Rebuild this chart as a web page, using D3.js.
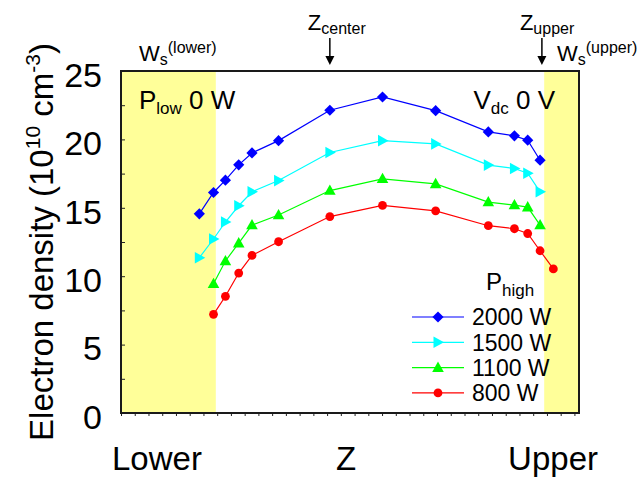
<!DOCTYPE html>
<html>
<head>
<meta charset="utf-8">
<script src="https://cdn.jsdelivr.net/npm/d3@7"></script>
<style>
	body { margin: 0; background: #fff; }
	svg { display: block; font-family: 'Liberation Sans', Arial, sans-serif; }
	.axis path { display: none; }
	.axis line { stroke: #222; }
	.axis text { fill: #000; }
</style>
</head>
<body>
<div class="chart"></div>
<script>
// z positions (0 = lower electrode, 100 = upper electrode)
const zBlue = [17.1, 20.2, 22.8, 25.7, 28.6, 34.4, 45.6, 57.1, 68.7, 80.2, 85.9, 88.8, 91.5]
const zCyan = [17.1, 20.2, 22.8, 25.7, 28.6, 34.4, 45.6, 57.1, 68.7, 80.2, 85.9, 88.8, 91.5]
const zGreen = [20.2, 22.8, 25.7, 28.6, 34.4, 45.6, 57.1, 68.7, 80.2, 85.9, 88.8, 91.5]
const zRed = [20.2, 22.8, 25.7, 28.6, 34.4, 45.6, 57.1, 68.7, 80.2, 85.9, 88.8, 91.5, 94.4]

// electron density, 10^10 cm^-3
const ne2000 = [14.56, 16.12, 17.02, 18.14, 19.01, 19.91, 22.13, 23.10, 22.10, 20.55, 20.26, 19.94, 18.48]
const ne1500 = [11.35, 12.72, 13.96, 15.15, 16.17, 16.99, 19.04, 19.91, 19.67, 18.12, 17.87, 17.53, 16.17]
const ne1100 = [9.45, 11.11, 12.42, 13.74, 14.47, 16.26, 17.12, 16.75, 15.42, 15.20, 15.05, 13.74]
const ne800 = [7.21, 8.53, 10.23, 11.52, 12.52, 14.36, 15.17, 14.78, 13.69, 13.47, 13.12, 11.86, 10.53]

const seriesNames = ['2000 W', '1500 W', '1100 W', '800 W']
const seriesColors = ['#0000ff', '#00ffff', '#00ff00', '#ff0000']
const seriesMarkers = ['diamond', 'triRight', 'triUp', 'circle']

const sheathLower = [0, 20.7]
const sheathUpper = [92.4, 100]
const zCenter = 45.6
const zUpper = 91.9

const yTicks = d3.range(0, 25.01, 2.5)
const yLabelTicks = [0, 5, 10, 15, 20, 25]
const xLabels = ['Lower', 'Z', 'Upper']

const width = 642
const height = 480
const FONT = 33
const margin = { top: 71, right: 63, bottom: 67, left: 121 }

const series = [
	{ z: zBlue, v: ne2000 },
	{ z: zCyan, v: ne1500 },
	{ z: zGreen, v: ne1100 },
	{ z: zRed, v: ne800 },
].map((s, i) => ({
	name: seriesNames[i],
	color: seriesColors[i],
	marker: seriesMarkers[i],
	points: s.z.map((z, j) => ({ z, v: s.v[j] })),
}))

const scaleX = d3.scaleLinear().domain([0, 100]).range([margin.left, width - margin.right])
const scaleY = d3.scaleLinear().domain([0, 25]).range([height - margin.bottom, margin.top])

const markerPath = {
	diamond: 'M0,-5.6L5.6,0L0,5.6L-5.6,0Z',
	triRight: 'M6,0L-4.5,-5.8L-4.5,5.8Z',
	triUp: 'M0,-6L5.8,4.3L-5.8,4.3Z',
	circle: d3.symbol(d3.symbolCircle, Math.PI * 4.4 * 4.4)(),
}

function translate(x, y) {
	return `translate(${x}, ${y})`
}

function sup(text, parts) {
	// parts: [{ t, size, dy }]
	parts.forEach(p => {
		text.append('tspan')
			.attr('font-size', p.size)
			.attr('dy', p.dy || 0)
			.text(p.t)
	})
}

const svg = d3.select('.chart').append('svg')
	.attr('width', width)
	.attr('height', height)

const x0 = scaleX(0)
const x1 = scaleX(100)
const y0 = scaleY(0)
const y1 = scaleY(25)

// sheath regions
svg.append('g').selectAll('rect')
	.data([sheathLower, sheathUpper])
	.join('rect')
	.attr('x', d => scaleX(d[0]))
	.attr('width', d => scaleX(d[1]) - scaleX(d[0]))
	.attr('y', y1)
	.attr('height', y0 - y1)
	.attr('fill', '#ffff99')

// y axis
const axisY = d3.axisLeft(scaleY)
	.tickValues(yTicks)
	.tickSize(-4)
	.tickPadding(19)
	.tickFormat(d => yLabelTicks.includes(d) ? d : '')

svg.append('g')
	.attr('class', 'axis axis--y')
	.attr('transform', translate(x0, 0))
	.call(axisY)
	.selectAll('text')
	.attr('font-size', 34)
	.attr('dy', '0.45em')

// bottom minor ticks
const axisX = d3.axisBottom(scaleX)
	.tickValues(d3.range(0, 100, 3))
	.tickSize(3)
	.tickFormat('')

svg.append('g')
	.attr('class', 'axis axis--x')
	.attr('transform', translate(0, y0))
	.call(axisX)
	.selectAll('line')
	.attr('stroke', '#666')

// frame
svg.append('rect')
	.attr('x', x0)
	.attr('y', y1)
	.attr('width', x1 - x0)
	.attr('height', y0 - y1)
	.attr('fill', 'none')
	.attr('stroke', '#1a1a1a')
	.attr('stroke-width', 2)

// series
const line = d3.line()
	.x(d => scaleX(d.z))
	.y(d => scaleY(d.v))

const gSeries = svg.append('g').selectAll('g')
	.data(series)
	.join('g')

gSeries.append('path')
	.attr('d', d => line(d.points))
	.attr('fill', 'none')
	.attr('stroke', d => d.color)
	.attr('stroke-width', 1.2)

gSeries.selectAll('.item')
	.data(d => d.points.map(p => ({ ...p, color: d.color, marker: d.marker })))
	.join('path')
	.attr('class', 'item')
	.attr('d', d => markerPath[d.marker])
	.attr('transform', d => translate(scaleX(d.z), scaleY(d.v)))
	.attr('fill', d => d.color)

// y title
const yTitle = svg.append('text')
	.attr('transform', `translate(53, ${(y0 + y1) / 2}) rotate(-90)`)
	.attr('text-anchor', 'middle')
	.attr('font-size', FONT)
sup(yTitle, [
	{ t: 'Electron density (10', size: FONT },
	{ t: '10', size: 21, dy: -13 },
	{ t: ' cm', size: FONT, dy: 13 },
	{ t: '-3', size: 21, dy: -13 },
	{ t: ')', size: FONT, dy: 13 },
])

// x labels
const xLabelPos = [
	{ x: 112, anchor: 'start' },
	{ x: 346, anchor: 'middle' },
	{ x: 598, anchor: 'end' },
]
svg.append('g').selectAll('text')
	.data(xLabels)
	.join('text')
	.attr('x', (d, i) => xLabelPos[i].x)
	.attr('y', 470)
	.attr('text-anchor', (d, i) => xLabelPos[i].anchor)
	.attr('font-size', FONT)
	.text(d => d)

// top annotations
function wsLabel(x, tag) {
	const t = svg.append('text').attr('x', x).attr('y', 61)
	sup(t, [
		{ t: 'W', size: 22 },
		{ t: 's', size: 16, dy: 4 },
		{ t: `(${tag})`, size: 16, dy: -12 },
	])
}
wsLabel(139, 'lower')
wsLabel(557, 'upper')

function zLabel(z, sub) {
	const x = scaleX(z)
	const t = svg.append('text').attr('x', x - 22).attr('y', 30)
	sup(t, [
		{ t: 'Z', size: 22 },
		{ t: sub, size: 16, dy: 4 },
	])
	svg.append('line')
		.attr('x1', x).attr('x2', x)
		.attr('y1', 38).attr('y2', 58)
		.attr('stroke', '#000')
		.attr('stroke-width', 1.5)
	svg.append('path')
		.attr('d', `M${x - 4.5},56L${x + 4.5},56L${x},65Z`)
		.attr('fill', '#000')
}
zLabel(zCenter, 'center')
zLabel(zUpper, 'upper')

const pLow = svg.append('text').attr('x', 139).attr('y', 109)
sup(pLow, [
	{ t: 'P', size: 26 },
	{ t: 'low', size: 17, dy: 5 },
	{ t: ' 0 W', size: 26, dy: -5 },
])

const vdc = svg.append('text').attr('x', 555).attr('y', 109).attr('text-anchor', 'end')
sup(vdc, [
	{ t: 'V', size: 26 },
	{ t: 'dc', size: 17, dy: 5 },
	{ t: ' 0 V', size: 26, dy: -5 },
])

// legend
const legend = svg.append('g').attr('transform', translate(412, 317))

const pHigh = legend.append('text').attr('x', 74).attr('y', -27)
sup(pHigh, [
	{ t: 'P', size: 24 },
	{ t: 'high', size: 17, dy: 6 },
])

const item = legend.selectAll('.legend-item')
	.data(series)
	.join('g')
	.attr('class', 'legend-item')
	.attr('transform', (d, i) => translate(0, i * 25.3))

item.append('line')
	.attr('x1', 0).attr('x2', 52)
	.attr('stroke', d => d.color)
	.attr('stroke-width', 1.2)

item.append('path')
	.attr('d', d => markerPath[d.marker])
	.attr('transform', translate(26, 0))
	.attr('fill', d => d.color)

item.append('text')
	.attr('x', 60)
	.attr('dy', '0.36em')
	.attr('font-size', 23)
	.text(d => d.name)
</script>
</body>
</html>
